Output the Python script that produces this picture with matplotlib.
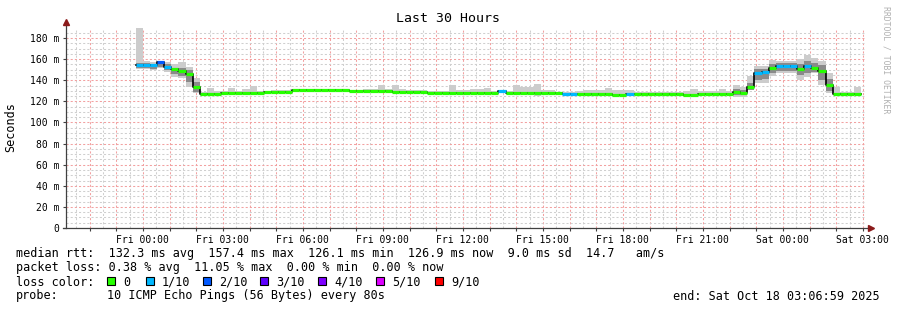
import matplotlib
matplotlib.use("Agg")
import matplotlib.pyplot as plt
import matplotlib.dates as mdates
from matplotlib.patches import Rectangle
from matplotlib.ticker import MultipleLocator, FuncFormatter
import pandas as pd

# === DATOS ===
chart_start = pd.Timestamp("2025-10-16 21:06:59")
chart_end = pd.Timestamp("2025-10-18 03:06:59")
data_start = pd.Timestamp("2025-10-16 23:44:00")
step_min = 16  # minutos por paso consolidado

# mediana (ms) por paso
median = [
    154.4, 154.4, 154.0, 157.4, 152.5, 150.6, 149.0, 146.2, 133.3, 127.3,
    127.3, 127.3, 127.9, 127.9, 127.9, 127.9, 127.9, 127.9, 129.2, 129.2,
    129.2, 129.2, 130.4, 130.4, 130.4, 130.4, 130.4, 130.4, 130.4, 130.4,
    130.1, 130.1, 130.1, 130.1, 130.1, 130.1, 129.3, 129.3, 129.3, 129.3,
    129.3, 128.3, 128.3, 128.3, 128.3, 128.3, 128.3, 128.3, 128.3, 128.3,
    128.3, 129.6, 127.7, 127.7, 127.7, 127.7, 127.7, 127.7, 127.7, 127.7,
    127.3, 127.3, 127.0, 127.0, 127.0, 127.0, 127.0, 126.3, 126.1, 127.0,
    127.0, 127.0, 127.0, 127.0, 127.0, 127.0, 127.0, 126.3, 126.3, 127.3,
    127.3, 127.3, 127.3, 127.3, 129.1, 127.6, 134.0, 146.5, 147.8, 151.9,
    153.5, 153.5, 153.5, 151.0, 153.2, 151.9, 149.0, 135.5, 127.2, 127.2,
    127.0, 126.9,
]
# humo: minimo y maximo de los pings por paso
smoke_lo = [
    151.0, 151.0, 149.7, 152.0, 148.0, 143.0, 142.0, 134.0, 127.6, 125.3,
    125.8, 125.8, 126.4, 126.4, 126.4, 126.4, 126.4, 126.4, 127.7, 127.7,
    127.7, 127.7, 128.9, 128.9, 128.9, 128.9, 128.9, 128.9, 128.9, 128.9,
    128.6, 128.6, 128.6, 128.6, 128.0, 128.6, 127.8, 127.8, 127.8, 127.8,
    127.8, 126.8, 126.8, 126.8, 126.0, 126.8, 126.8, 126.8, 126.8, 126.5,
    126.8, 128.0, 126.2, 126.2, 126.2, 126.2, 125.5, 126.2, 126.2, 126.2,
    125.8, 125.8, 125.5, 125.5, 125.5, 125.5, 125.5, 124.8, 124.8, 125.5,
    125.5, 125.5, 125.5, 125.5, 125.5, 125.5, 125.5, 124.8, 124.8, 125.8,
    125.8, 125.8, 125.8, 125.8, 124.4, 124.4, 130.7, 137.0, 137.0, 144.0,
    146.5, 146.5, 146.5, 140.0, 142.8, 146.5, 135.5, 127.6, 126.0, 126.0,
    126.0, 126.0,
]
smoke_hi = [
    189.5, 158.0, 157.5, 158.0, 157.0, 155.0, 157.0, 153.0, 142.0, 129.0,
    132.3, 129.5, 129.5, 132.5, 129.5, 131.5, 134.8, 129.5, 130.2, 130.7,
    130.7, 130.5, 131.2, 131.2, 131.7, 131.2, 131.7, 131.7, 131.2, 131.7,
    131.2, 131.2, 131.7, 131.7, 135.5, 131.7, 135.5, 131.7, 131.0, 131.0,
    131.0, 129.5, 129.5, 129.5, 135.5, 130.7, 130.7, 131.7, 131.7, 133.0,
    130.0, 130.5, 129.5, 135.5, 133.3, 133.3, 136.4, 130.7, 130.7, 129.0,
    128.5, 129.2, 129.5, 130.7, 130.7, 130.7, 133.0, 130.7, 130.7, 130.7,
    129.0, 128.5, 128.5, 128.5, 128.5, 128.5, 128.5, 129.5, 131.7, 129.5,
    129.8, 129.8, 131.7, 130.0, 135.5, 134.0, 144.0, 153.5, 153.5, 159.0,
    158.5, 158.5, 158.5, 159.8, 163.9, 160.8, 158.5, 146.5, 134.0, 128.5,
    128.5, 134.0,
]
# nucleo oscuro del humo (solo donde se ve)
core_band = {
    0: (152, 156), 1: (152, 156), 2: (151, 155), 3: (153, 157), 4: (150, 155),
    5: (146, 152), 6: (144, 152), 7: (138.6, 149.7), 8: (129, 138.6),
    84: (126, 132), 85: (126, 131), 86: (130.7, 137), 87: (140, 151),
    88: (141, 151), 89: (147, 155), 90: (149, 156), 91: (149, 156),
    92: (149, 156), 93: (145, 155), 94: (147, 158), 95: (148, 156),
    96: (140, 154), 97: (130, 141),
}
# indice de color de perdida por paso
loss_idx = [0] * len(median)
for k in [0, 1, 2, 4, 51, 60, 61, 69, 87, 88, 90, 91, 92, 94]:
    loss_idx[k] = 1
loss_idx[3] = 2

loss_labels = ["0", "1/10", "2/10", "3/10", "4/10", "5/10", "9/10"]
loss_colors = ["#26ff00", "#00b8ff", "#0059ff", "#5e00ff", "#7e00ff", "#dd00ff", "#ff0000"]

# === FIGURA ===
MONO = "DejaVu Sans Mono"
plt.rcParams["font.family"] = MONO
W, H = 897, 310
fig = plt.figure(figsize=(W / 100, H / 100), dpi=100)
fig.patch.set_facecolor("white")
x0, x1, ytop, ybot = 66, 866, 28, 228
ax = fig.add_axes([x0 / W, 1 - ybot / H, (x1 - x0) / W, (ybot - ytop) / H])

starts = pd.date_range(data_start, periods=len(median), freq=f"{step_min}min")
xs = mdates.date2num(starts.to_pydatetime())
w = step_min / 1440.0

heights = [h - l for h, l in zip(smoke_hi, smoke_lo)]
ax.bar(xs, heights, width=w, bottom=smoke_lo, align="edge", color="#cccccc", linewidth=0, zorder=2)
for k, (lo, hi) in core_band.items():
    ax.bar(xs[k], hi - lo, width=w, bottom=lo, align="edge", color="#8a8a8a", linewidth=0, zorder=3)

edges = list(xs) + [xs[-1] + w]
ax.step(edges, median + [median[-1]], where="post", color="black", lw=1.2, zorder=4)
ax.hlines(median, xs, xs + w, colors=[loss_colors[i] for i in loss_idx],
          lw=2.3, zorder=5, capstyle="butt")

ax.set_xlim(mdates.date2num(chart_start.to_pydatetime()), mdates.date2num(chart_end.to_pydatetime()))
ax.set_ylim(0, max(smoke_hi))

# ejes y rejilla
ax.xaxis.set_major_locator(mdates.HourLocator(interval=1))
ax.xaxis.set_minor_locator(mdates.MinuteLocator(byminute=[30]))
ax.xaxis.set_major_formatter(FuncFormatter(
    lambda v, p: mdates.num2date(v).strftime("%a %H:%M") if mdates.num2date(v).hour % 3 == 0 else ""))
ax.yaxis.set_major_locator(MultipleLocator(20))
ax.yaxis.set_minor_locator(MultipleLocator(5))
ax.yaxis.set_major_formatter(FuncFormatter(lambda v, p: "0" if v == 0 else f"{v:.0f} m"))
ax.set_axisbelow(True)
ax.grid(which="major", color="#f2a0a0", linestyle=(0, (2, 2)), lw=0.75, zorder=0)
ax.grid(which="minor", color="#cfcfcf", linestyle=(0, (2, 2)), lw=0.75, zorder=0)
ax.tick_params(which="major", length=2, width=0.8, color="#404040", labelsize=7, pad=3)
ax.tick_params(which="minor", length=0)
for s in ax.spines.values():
    s.set_visible(False)

ax.plot([0, 0], [0, 1.03], transform=ax.transAxes, color="#404040", lw=0.9, clip_on=False, zorder=6)
ax.plot([-0.004, 1.007], [0, 0], transform=ax.transAxes, color="#404040", lw=0.9, clip_on=False, zorder=6)
ax.plot([0], [1.03], marker="^", ms=4, color="#8b1a1a", transform=ax.transAxes, clip_on=False, zorder=7)
ax.plot([1.006], [0], marker=">", ms=4, color="#8b1a1a", transform=ax.transAxes, clip_on=False, zorder=7)

# === TEXTOS ===
def ftxt(x, y, s, **kw):
    kw.setdefault("fontsize", 8.5)
    kw.setdefault("va", "center")
    fig.text(x / W, 1 - y / H, s, **kw)

ftxt(448, 19, "Last 30 Hours", ha="center", fontsize=9.5)
ftxt(11, 127, "Seconds", ha="center", rotation=90)
ftxt(886, 60, "RRDTOOL / TOBI OETIKER", ha="center", rotation=270, fontsize=5.9, color="#b0b0b0")

ftxt(16, 254, "median rtt:  132.3 ms avg  157.4 ms max  126.1 ms min  126.9 ms now  9.0 ms sd  14.7   am/s")
ftxt(16, 268, "packet loss: 0.38 % avg  11.05 % max  0.00 % min  0.00 % now")
ftxt(16, 282, "loss color:")
box_x = [107, 146, 203, 260, 318, 376, 435]
for bx, lab, col in zip(box_x, loss_labels, loss_colors):
    fig.patches.append(Rectangle((bx / W, 1 - 285 / H), 8 / W, 8 / H, transform=fig.transFigure,
                                 facecolor=col, edgecolor="black", lw=0.8))
    ftxt(bx + 16, 282, lab)
ftxt(16, 296, "probe:")
ftxt(107, 296, "10 ICMP Echo Pings (56 Bytes) every 80s")
ftxt(880, 296, "end: Sat Oct 18 03:06:59 2025", ha="right")

fig.savefig("out.png", dpi=100)
